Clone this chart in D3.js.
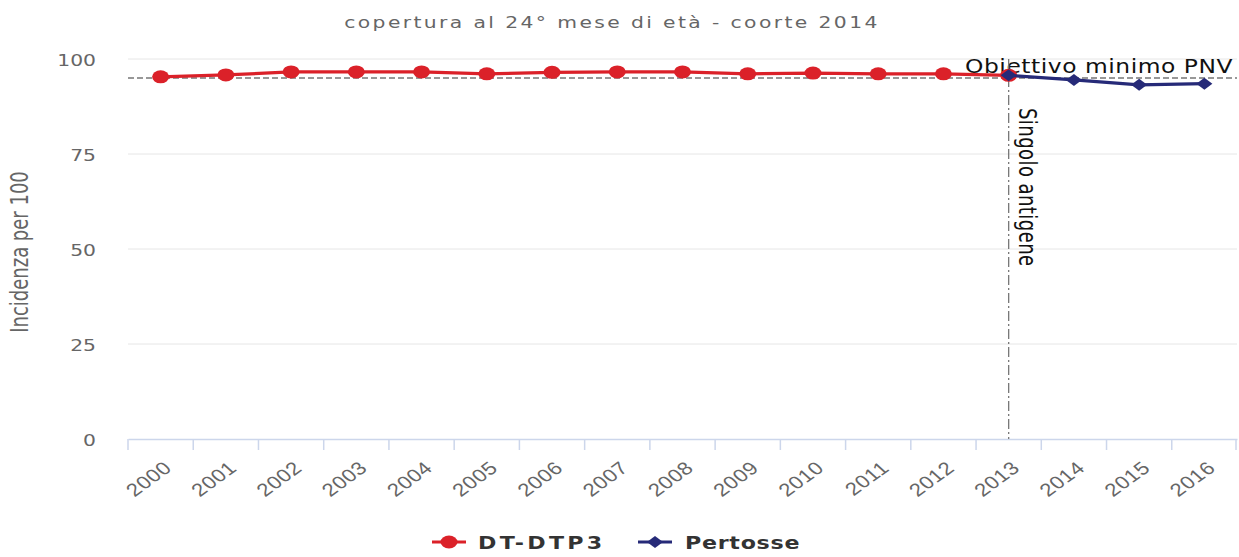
<!DOCTYPE html>
<html>
<head>
<meta charset="utf-8">
<script src="https://cdn.jsdelivr.net/npm/d3@7"></script>
<style>
  body { margin: 0; background: #fff; }
  svg { display: block; font-family: "DejaVu Sans", Verdana, sans-serif; }
</style>
</head>
<body>
<script>
const years = ["2000", "2001", "2002", "2003", "2004", "2005", "2006", "2007", "2008",
  "2009", "2010", "2011", "2012", "2013", "2014", "2015", "2016"];
const dtp3 = [95.3, 95.8, 96.6, 96.6, 96.6, 96.1, 96.5, 96.6, 96.6, 96.1, 96.3, 96.1, 96.1, 95.7, null, null, null];
const pertosse = [null, null, null, null, null, null, null, null, null, null, null, null, null, 95.7, 94.5, 93.2, 93.5];
const yTicks = [0, 25, 50, 75, 100];
const target = 95;
const markerYear = "2013";

const w = 1239;
const h = 557;
const margin = { top: 59, right: 2, bottom: 118, left: 128 };
const sx = 1.23; // the chart text is drawn a bit wide

const x = d3.scaleBand().domain(years).range([margin.left, w - margin.right]);
const y = d3.scaleLinear().domain([0, 100]).range([h - margin.bottom, margin.top]);
const cx = (d) => x(d) + x.bandwidth() / 2;

const svg = d3.select("body").append("svg").attr("width", w).attr("height", h);

// title
svg.append("text")
  .attr("transform", `translate(612,28) scale(${sx},1)`)
  .attr("text-anchor", "middle")
  .attr("fill", "#666")
  .style("font-size", "16.5px")
  .style("letter-spacing", "1.95px")
  .text("copertura al 24° mese di età - coorte 2014");

// grid
svg.append("g")
  .selectAll("line")
  .data(yTicks.filter((t) => t > 0))
  .enter().append("line")
  .attr("x1", margin.left).attr("x2", w - margin.right)
  .attr("y1", (d) => y(d)).attr("y2", (d) => y(d))
  .attr("stroke", "#e6e6e6").attr("stroke-width", 1);

// y labels
svg.append("g")
  .selectAll("text")
  .data(yTicks)
  .enter().append("text")
  .attr("transform", (d) => `translate(96,${y(d) + 7}) scale(${sx},1)`)
  .attr("text-anchor", "end")
  .attr("fill", "#666")
  .style("font-size", "16.5px")
  .text((d) => d);

svg.append("text")
  .attr("transform", `translate(28,${(margin.top + h - margin.bottom) / 2 + 3}) scale(${sx},1) rotate(-90)`)
  .attr("text-anchor", "middle")
  .attr("fill", "#666")
  .style("font-size", "20px")
  .style("font-family", "'DejaVu Sans Condensed', 'Liberation Sans Narrow', sans-serif")
  .style("font-stretch", "condensed")
  .text("Incidenza per 100");

// x axis
const xAxis = svg.append("g")
  .attr("transform", `translate(0,${y(0)})`)
  .call(d3.axisBottom(x).tickSize(0).tickFormat(""));
xAxis.select(".domain").attr("stroke", "#ccd6eb").attr("stroke-width", 1.5);
xAxis.selectAll(".tick").remove();

const bounds = years.map((d) => x(d)).concat([w - margin.right - 1]);
xAxis.selectAll("line.b")
  .data(bounds)
  .enter().append("line")
  .attr("class", "b")
  .attr("x1", (d) => d).attr("x2", (d) => d)
  .attr("y1", 0).attr("y2", 11)
  .attr("stroke", "#ccd6eb").attr("stroke-width", 1.5);

xAxis.selectAll("text.yr")
  .data(years)
  .enter().append("text")
  .attr("class", "yr")
  .attr("transform", (d) => `translate(${cx(d) + 2},${21}) scale(${sx},1) rotate(-42)`)
  .attr("text-anchor", "end")
  .attr("dy", "0.7em")
  .attr("fill", "#666")
  .style("font-size", "18px")
  .style("letter-spacing", "0.5px")
  .text((d) => d);

// target line
svg.append("line")
  .attr("x1", margin.left).attr("x2", w - margin.right)
  .attr("y1", y(target)).attr("y2", y(target))
  .attr("stroke", "#777").attr("stroke-width", 1.3)
  .attr("stroke-dasharray", "6,3");
svg.append("text")
  .attr("transform", `translate(${w - 6},${y(target) - 5}) scale(${sx},1)`)
  .attr("text-anchor", "end")
  .attr("fill", "#111")
  .style("font-size", "19px")
  .style("letter-spacing", "0.45px")
  .text("Obiettivo minimo PNV");

// vertical marker line
svg.append("line")
  .attr("x1", cx(markerYear)).attr("x2", cx(markerYear))
  .attr("y1", y(100)).attr("y2", y(0))
  .attr("stroke", "#777").attr("stroke-width", 1.3)
  .attr("stroke-dasharray", "10,3,2,3");
svg.append("text")
  .attr("transform", `translate(${cx(markerYear) + 10},${108}) scale(${sx},1) rotate(90)`)
  .attr("fill", "#111")
  .style("font-size", "20px")
  .style("letter-spacing", "0.45px")
  .style("font-family", "'DejaVu Sans Condensed', 'Liberation Sans Narrow', sans-serif")
  .style("font-stretch", "condensed")
  .text("Singolo antigene");

// series
const line = d3.line()
  .defined((d) => d[1] != null)
  .x((d) => cx(d[0]))
  .y((d) => y(d[1]));

const red = "#db2129";
const navy = "#262a78";

const dtpData = years.map((yr, i) => [yr, dtp3[i]]);
const perData = years.map((yr, i) => [yr, pertosse[i]]);

svg.append("path").datum(dtpData)
  .attr("d", line).attr("fill", "none")
  .attr("stroke", red).attr("stroke-width", 3.2);
svg.append("g").selectAll("ellipse")
  .data(dtpData.filter((d) => d[1] != null))
  .enter().append("ellipse")
  .attr("cx", (d) => cx(d[0])).attr("cy", (d) => y(d[1]))
  .attr("rx", 8.5).attr("ry", 6.5)
  .attr("fill", red);

svg.append("path").datum(perData)
  .attr("d", line).attr("fill", "none")
  .attr("stroke", navy).attr("stroke-width", 3.2);
const diamond = (px, py) => `M${px},${py - 6}L${px + 8},${py}L${px},${py + 6}L${px - 8},${py}Z`;
svg.append("g").selectAll("path")
  .data(perData.filter((d) => d[1] != null))
  .enter().append("path")
  .attr("d", (d) => diamond(cx(d[0]), y(d[1])))
  .attr("fill", navy);

// legend
const legend = [
  { name: "DT-DTP3", color: red, lx: 432, type: "circle", len: 101 },
  { name: "Pertosse", color: navy, lx: 638, type: "diamond", len: 93 },
];
const lg = svg.append("g").selectAll("g")
  .data(legend)
  .enter().append("g")
  .attr("transform", (d) => `translate(${d.lx},542)`);
lg.append("line")
  .attr("x1", 0).attr("x2", 34)
  .attr("stroke", (d) => d.color).attr("stroke-width", 3.2);
lg.filter((d) => d.type === "circle").append("ellipse")
  .attr("cx", 17).attr("rx", 8.5).attr("ry", 6.5).attr("fill", (d) => d.color);
lg.filter((d) => d.type === "diamond").append("path")
  .attr("d", diamond(17, 0)).attr("fill", (d) => d.color);
lg.append("text")
  .attr("transform", (d) => `translate(${d.type === "circle" ? 46 : 47},7) scale(${sx},1)`)
  .attr("textLength", (d) => d.len)
  .attr("lengthAdjust", "spacing")
  .attr("fill", "#333")
  .style("font-size", "18px")
  .style("font-weight", "bold")
  .text((d) => d.name);
</script>
</body>
</html>
